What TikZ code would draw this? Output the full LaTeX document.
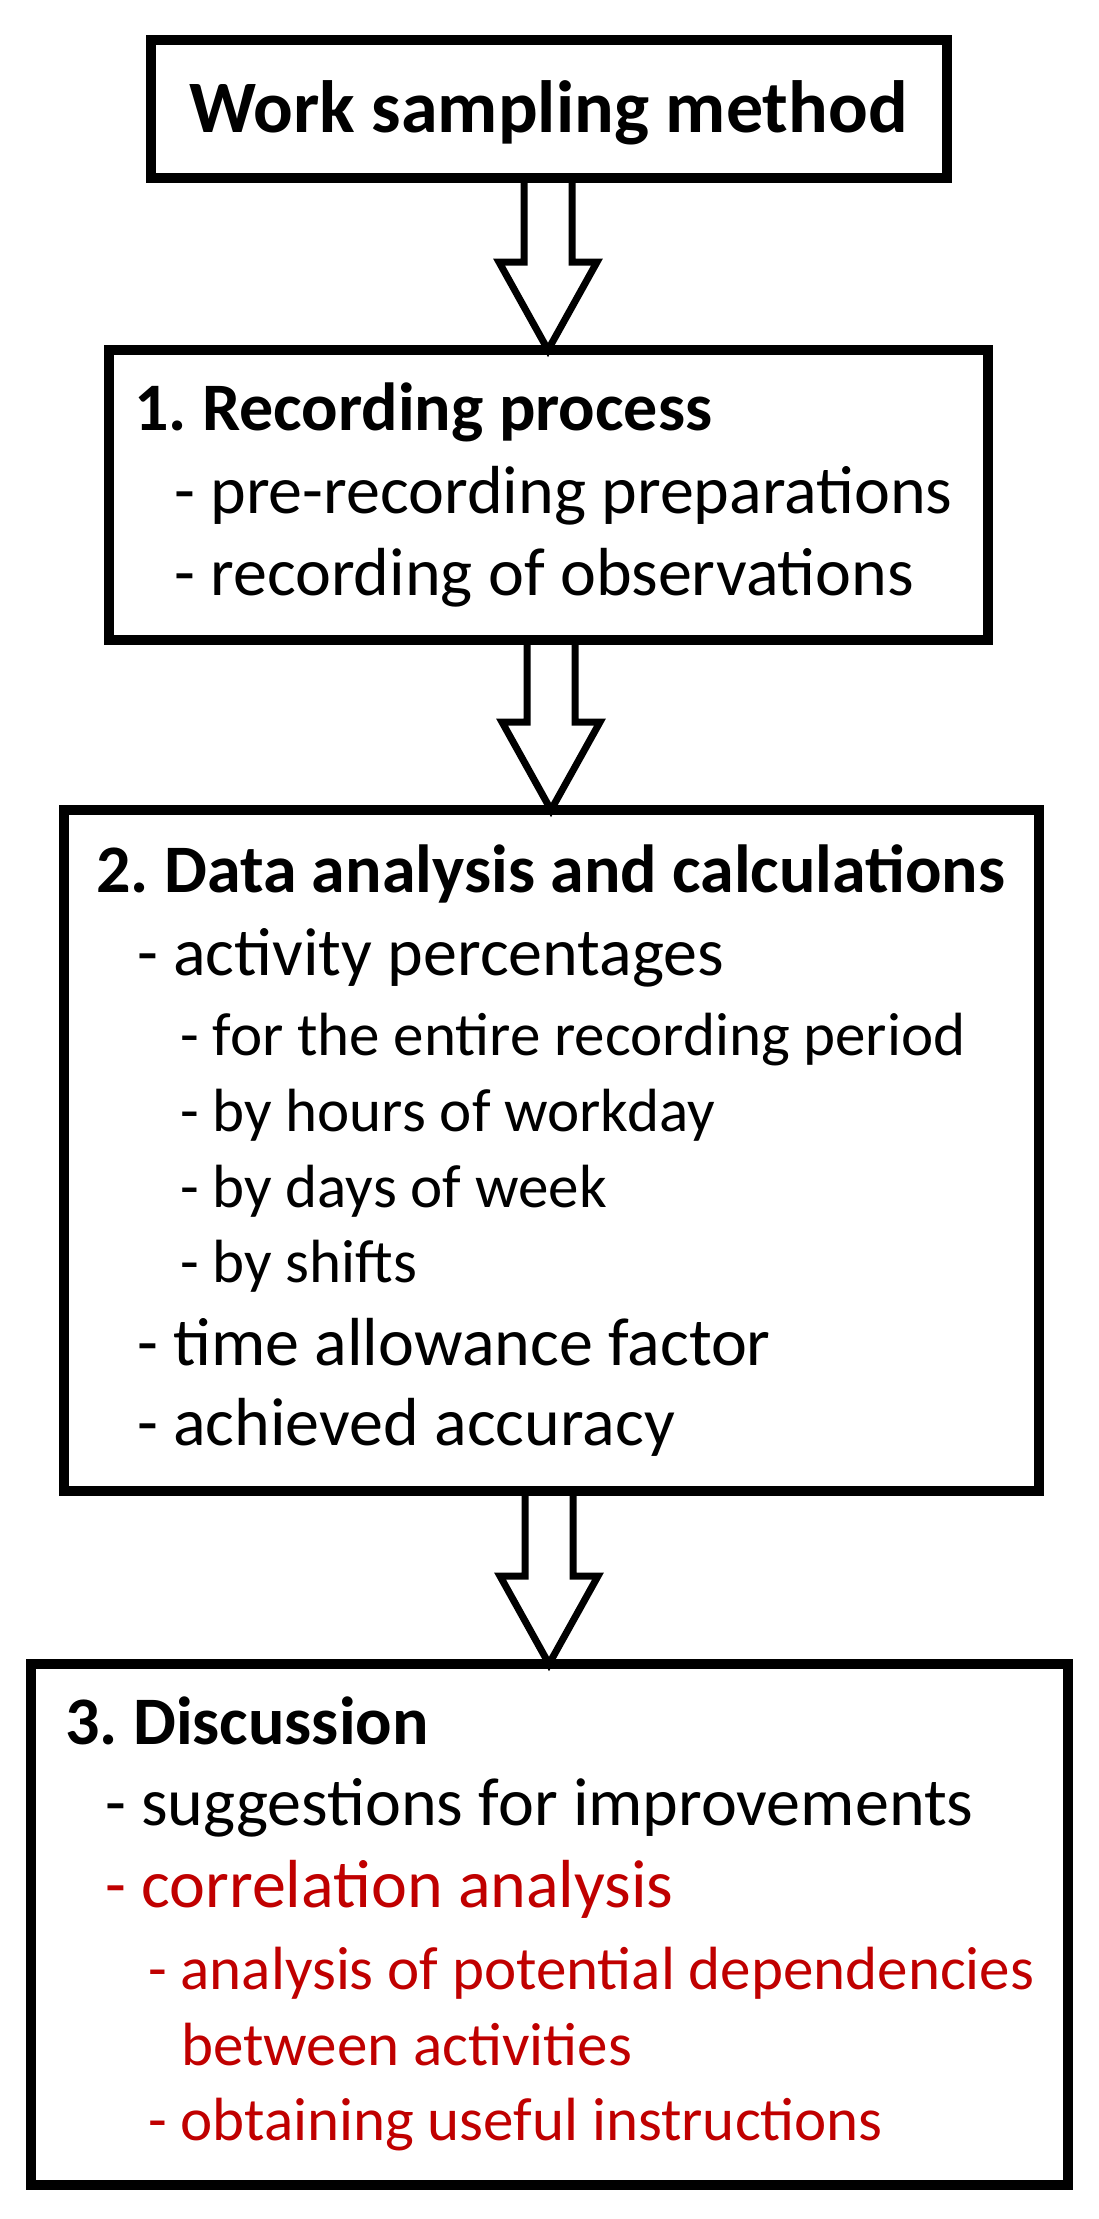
\documentclass[tikz,border=0pt]{standalone}
\usepackage{fontspec}
\setmainfont{Carlito}
\usetikzlibrary{calc}
\definecolor{dred}{RGB}{192,0,0}
\frenchspacing
\newcommand\blockarrow[2]{%
  \draw[barrow] ($(#1)+(-24,0)$) -- ($(#2)+(-24,-88)$) -- ($(#2)+(-49,-88)$)
    -- (#2) -- ($(#2)+(49,-88)$) -- ($(#2)+(24,-88)$) -- ($(#1)+(24,0)$);}
\begin{document}
\begin{tikzpicture}[x=1pt,y=-1pt,
  box/.style={draw, line width=10pt, fill=white, inner sep=0pt, outer sep=0pt},
  ttl/.style={font=\bfseries\fontsize{74}{88}\selectfont, anchor=base, inner sep=0pt},
  hd/.style={font=\bfseries\fontsize{68}{82}\selectfont, anchor=base west, inner sep=0pt},
  itm/.style={font=\fontsize{68}{82}\selectfont, anchor=base west, inner sep=0pt},
  subitm/.style={font=\fontsize{61}{74}\selectfont, anchor=base west, inner sep=0pt},
  warn/.style={text=dred},
  barrow/.style={draw, line width=7pt, fill=white, line join=miter}]
\useasboundingbox (0,0) rectangle (1099,2219);
% boxes
\node[box, minimum width=796pt, minimum height=138pt] (b0) at (549,109) {};
\node[box, minimum width=879pt, minimum height=290pt] (b1) at (548,495) {};
\node[box, minimum width=975pt, minimum height=681pt] (b2) at (551,1150.5) {};
\node[box, minimum width=1037pt, minimum height=521pt] (b3) at (549,1924.5) {};
% arrows
\coordinate (a1s) at (b1.north |- b0.south);
\coordinate (a2s) at (b2.north |- b1.south);
\coordinate (a3s) at (b3.north |- b2.south);
\blockarrow{a1s}{b1.north}
\blockarrow{a2s}{b2.north}
\blockarrow{a3s}{b3.north}
% redraw box edges over arrow ends
\draw[line width=10pt] (b0.south west) -- (b0.south east);
\draw[line width=10pt] (b1.north west) -- (b1.north east);
\draw[line width=10pt] (b1.south west) -- (b1.south east);
\draw[line width=10pt] (b2.north west) -- (b2.north east);
\draw[line width=10pt] (b2.south west) -- (b2.south east);
\draw[line width=10pt] (b3.north west) -- (b3.north east);
% title
\node[ttl] (t0) at (548.5,132) {Work sampling method};
% box 1
\node[hd]  (t1a) at (134,430) {1. Recording process};
\node[itm] (t1b) at (174,513) {- pre-recording preparations};
\node[itm] (t1c) at (174,595) {- recording of observations};
% box 2
\node[hd]     (t2a) at (96,892)   {2. Data analysis and calculations};
\node[itm]    (t2b) at (137,975)  {- activity percentages};
\node[subitm] (t2c) at (180,1055) {- for the entire recording period};
\node[subitm] (t2d) at (180,1131) {- by hours of workday};
\node[subitm] (t2e) at (180,1207) {- by days of week};
\node[subitm] (t2f) at (180,1282) {- by shifts};
\node[itm]    (t2g) at (137,1365) {- time allowance factor};
\node[itm]    (t2h) at (137,1445) {- achieved accuracy};
% box 3
\node[hd]           (t3a) at (65,1744)  {3. Discussion};
\node[itm]          (t3b) at (105,1825) {- suggestions for improvements};
\node[itm, warn]    (t3c) at (105,1907) {- correlation analysis};
\node[subitm, warn] (t3d) at (148,1989) {- analysis of potential dependencies};
\node[subitm, warn] (t3e) at (181,2065) {between activities};
\node[subitm, warn] (t3f) at (148,2140) {- obtaining useful instructions};
\end{tikzpicture}
\end{document}
